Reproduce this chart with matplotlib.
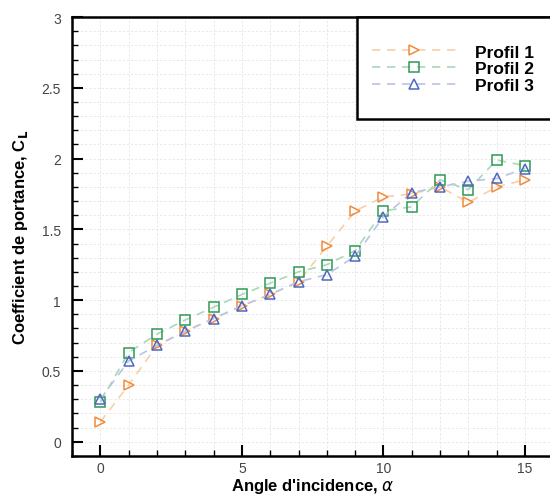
import matplotlib.pyplot as plt
from matplotlib.patches import Rectangle
from matplotlib.ticker import MultipleLocator

plt.rcParams['font.family'] = ['Liberation Sans', 'DejaVu Sans']

alpha_deg = [0, 1, 2, 3, 4, 5, 6, 7, 8, 9, 10, 11, 12, 13, 14, 15]
profil1 = [0.14, 0.40, 0.68, 0.78, 0.87, 0.96, 1.04, 1.13, 1.38, 1.63, 1.73, 1.75, 1.80, 1.69, 1.80, 1.85]
profil2 = [0.28, 0.63, 0.76, 0.86, 0.95, 1.04, 1.12, 1.20, 1.25, 1.35, 1.63, 1.66, 1.85, 1.78, 1.99, 1.95]
profil3 = [0.30, 0.57, 0.68, 0.78, 0.87, 0.96, 1.04, 1.13, 1.18, 1.31, 1.59, 1.76, 1.80, 1.84, 1.86, 1.93]

series = [
    ('Profil 1', profil1, '>', '#f7cfa8', '#f08c3c'),
    ('Profil 2', profil2, 's', '#a8d8b8', '#2e9a55'),
    ('Profil 3', profil3, '^', '#b8c4e8', '#5068c0'),
]

fig = plt.figure(figsize=(5.5, 5.02), dpi=100)
ax = fig.add_axes([0.131, 0.090, 0.875, 0.874])

for name, vals, mk, lc, mc in series:
    ax.plot(alpha_deg, vals, linestyle=(0, (5, 4)), color=lc, linewidth=1.2,
            marker=mk, markersize=7, markerfacecolor='none',
            markeredgecolor=mc, markeredgewidth=1.1, label=name)

ax.set_xlim(-1, 16)
ax.set_ylim(-0.1, 3)
ax.xaxis.set_major_locator(MultipleLocator(5))
ax.xaxis.set_minor_locator(MultipleLocator(1))
ax.yaxis.set_minor_locator(MultipleLocator(0.1))
ax.set_yticks([0, 0.5, 1, 1.5, 2, 2.5, 3])
ax.set_yticklabels(['0', '0.5', '1', '1.5', '2', '2.5', '3'])

ax.tick_params(which='both', direction='in', top=False, right=False,
               labelsize=10, labelcolor='#444444')
ax.tick_params(axis='y', pad=8)
ax.tick_params(which='major', length=8, width=1.5)
ax.tick_params(which='minor', length=4, width=1)
ax.grid(which='both', color='#e6e6e6', linewidth=0.6, linestyle=(0, (3, 2)))
ax.set_axisbelow(True)

for s in ['left', 'bottom', 'top']:
    ax.spines[s].set_linewidth(1.8)
ax.spines['right'].set_visible(False)

ax.set_xlabel("Angle d'incidence, $\\alpha$", fontsize=12, fontweight='bold', labelpad=1)
ax.set_ylabel("Coefficient de portance, C$_\\mathbf{L}$", fontsize=12, fontweight='bold', labelpad=8)

# legend box drawn separately (taller than the legend content)
box = Rectangle((0.593, 0.768), 0.5, 0.232, transform=ax.transAxes,
                facecolor='white', edgecolor='black', linewidth=1.8,
                clip_on=False, zorder=5)
ax.add_patch(box)

leg = ax.legend(loc='center left', bbox_to_anchor=(0.624, 0.882), borderaxespad=0,
                handlelength=4.8, handletextpad=1.1, labelspacing=0.1,
                prop={'weight': 'bold', 'size': 12.5}, frameon=False, borderpad=0)
leg.set_zorder(6)

plt.savefig('out.png', dpi=100)
